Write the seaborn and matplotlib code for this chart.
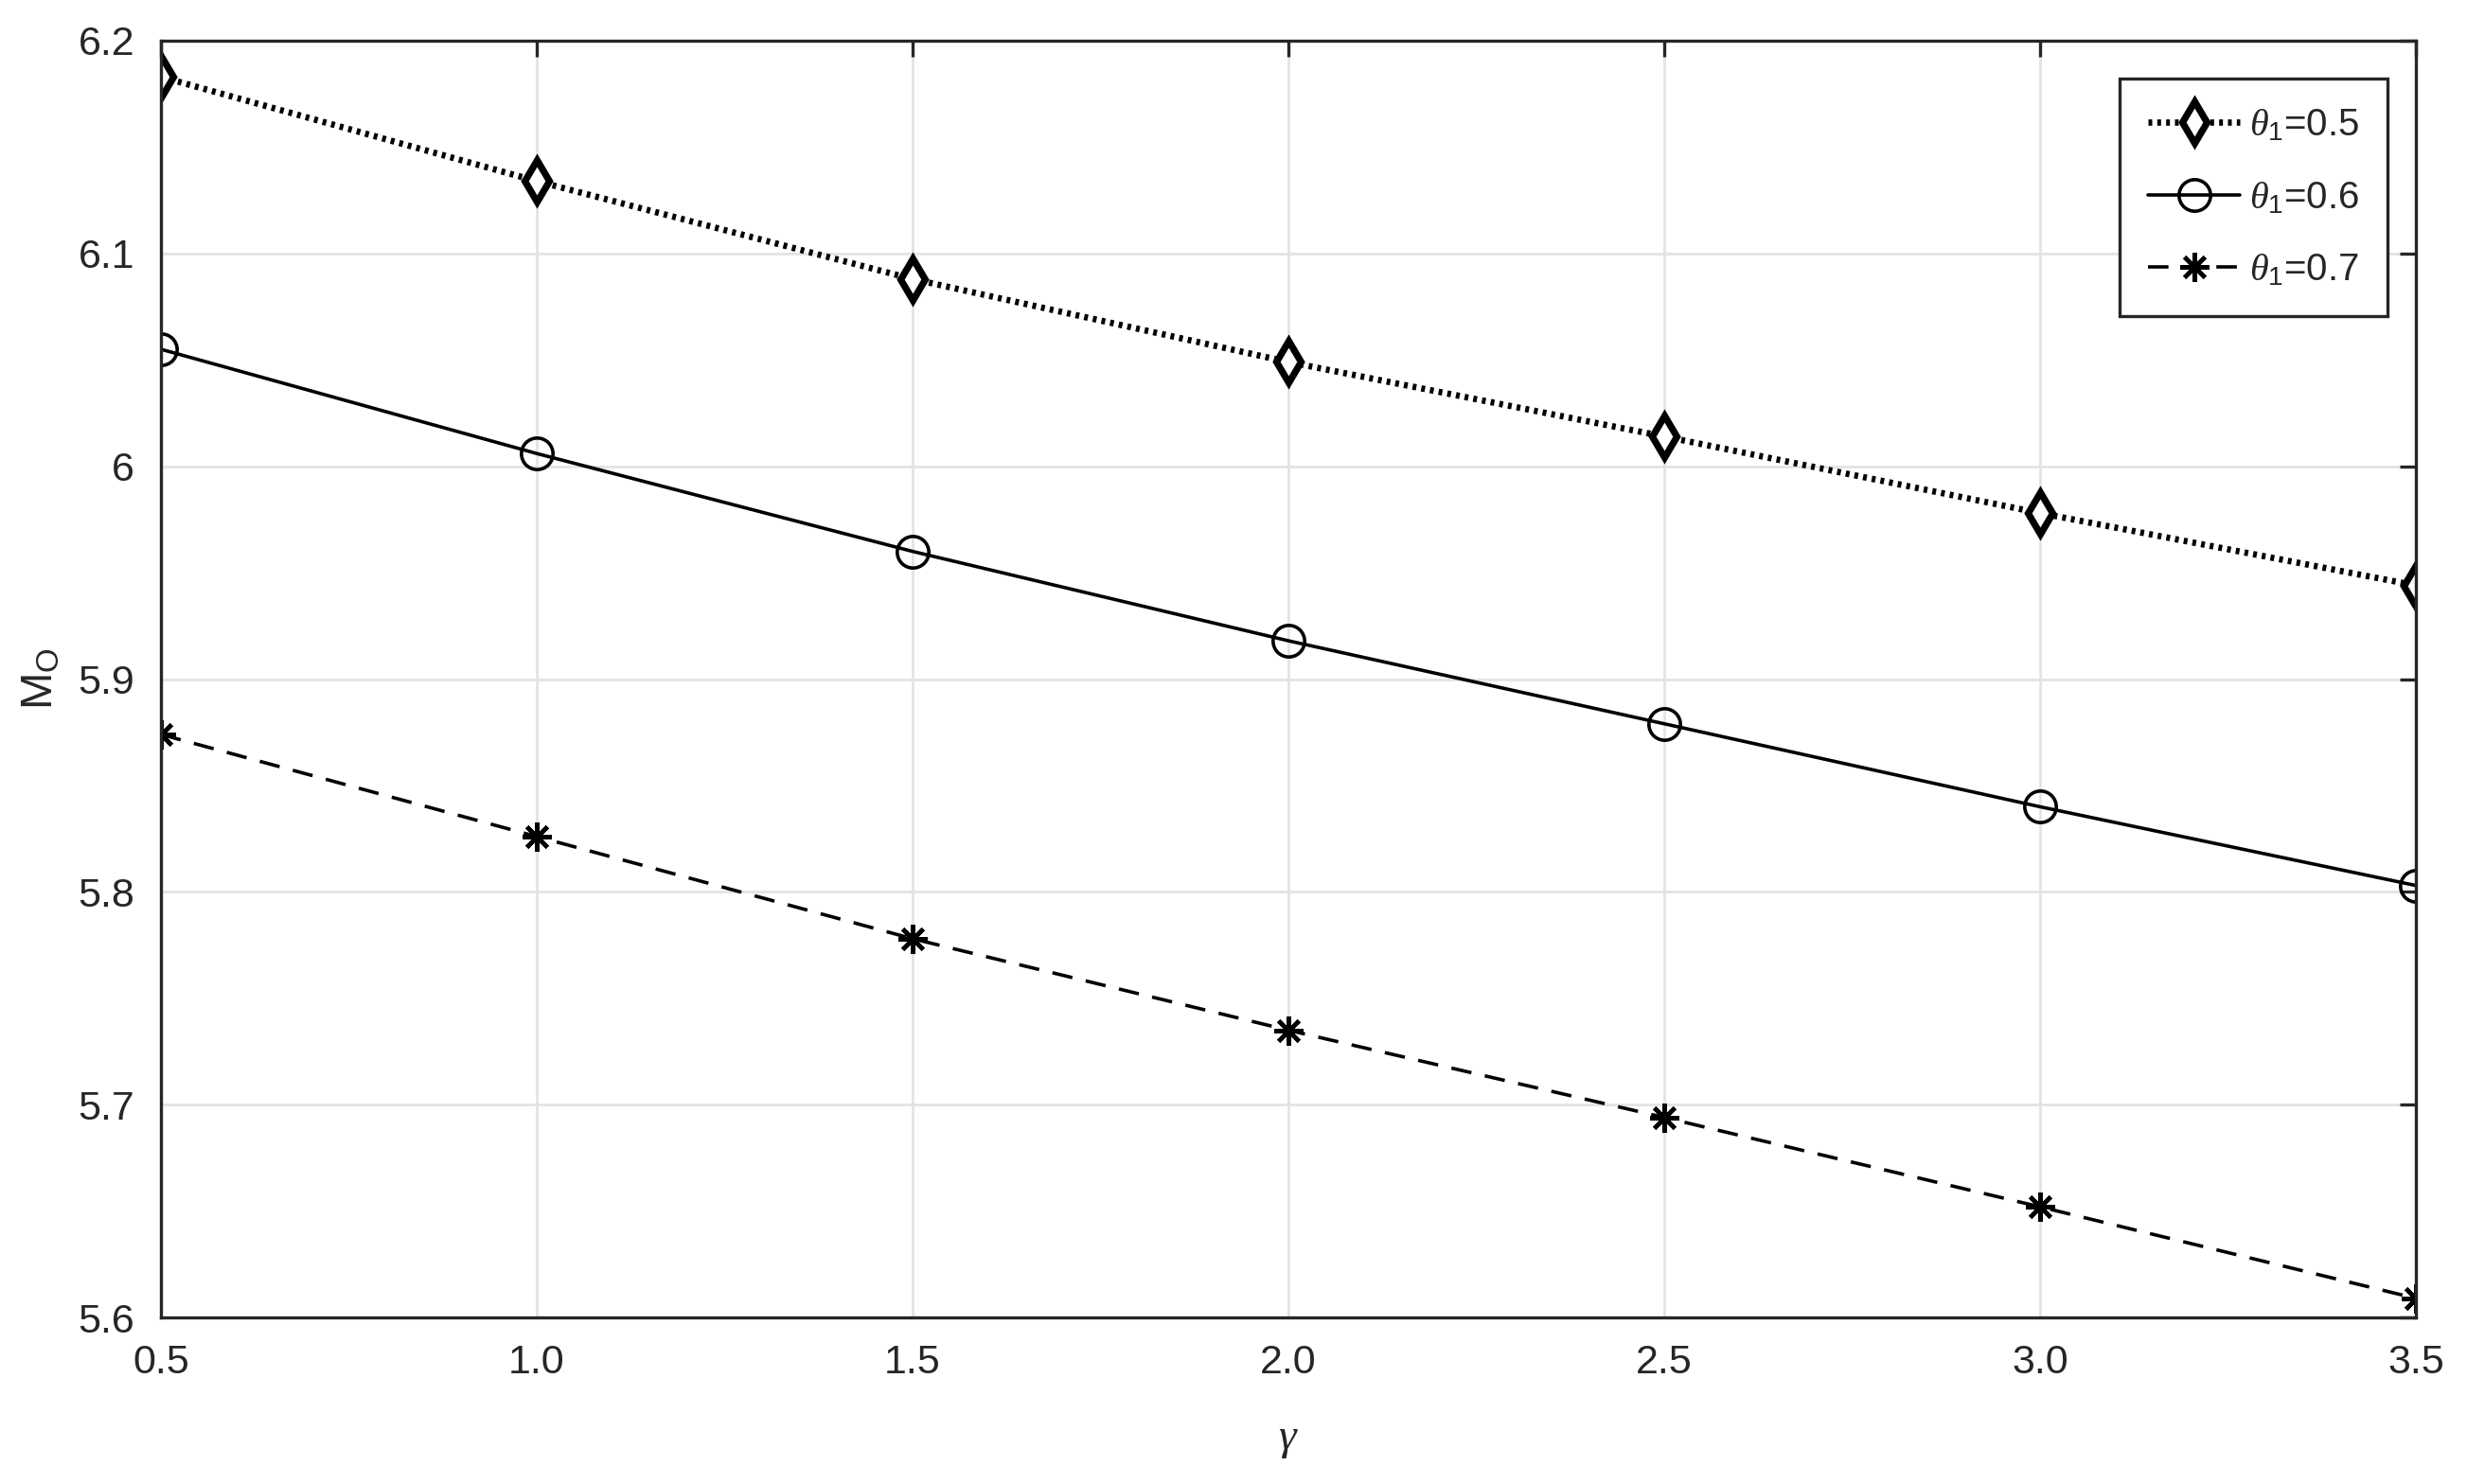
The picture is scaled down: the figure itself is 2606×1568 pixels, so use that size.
import numpy as np
import pandas as pd
import matplotlib
matplotlib.use("Agg")
import matplotlib.pyplot as plt
import seaborn as sns

# values
gamma = [0.5, 1.0, 1.5, 2.0, 2.5, 3.0, 3.5]
m_theta05 = [6.183, 6.134, 6.088, 6.049, 6.014, 5.978, 5.944]
m_theta06 = [6.055, 6.006, 5.960, 5.918, 5.879, 5.840, 5.803]
m_theta07 = [5.874, 5.826, 5.778, 5.735, 5.694, 5.652, 5.609]
labels = [r"$\theta_{\mathregular{1}}$=0.5", r"$\theta_{\mathregular{1}}$=0.6",
          r"$\theta_{\mathregular{1}}$=0.7"]
xticks = [0.5, 1.0, 1.5, 2.0, 2.5, 3.0, 3.5]
yticks = [5.6, 5.7, 5.8, 5.9, 6.0, 6.1, 6.2]
yticklabels = ["5.6", "5.7", "5.8", "5.9", "6", "6.1", "6.2"]

sns.set_style("white")
plt.rcParams["font.family"] = ["Liberation Sans", "DejaVu Sans"]
plt.rcParams["mathtext.fontset"] = "custom"
plt.rcParams["mathtext.rm"] = "Liberation Sans"
plt.rcParams["mathtext.it"] = "Liberation Serif:italic"

df = pd.DataFrame({"gamma": gamma, "t05": m_theta05, "t06": m_theta06, "t07": m_theta07})

fig = plt.figure(figsize=(13.03, 7.84), dpi=200)
ax = fig.add_axes([0.0652, 0.1122, 0.9141, 0.8604])

sns.lineplot(data=df, x="gamma", y="t05", ax=ax, color="black", linewidth=2.4,
             linestyle=(0, (0.6, 0.8)), marker="d", markersize=11,
             markerfacecolor="white", markeredgecolor="black", markeredgewidth=2.6,
             label=labels[0])
sns.lineplot(data=df, x="gamma", y="t06", ax=ax, color="black", linewidth=1.3,
             linestyle="-", marker="o", markersize=12,
             markerfacecolor="none", markeredgecolor="black", markeredgewidth=1.3,
             label=labels[1])
sns.lineplot(data=df, x="gamma", y="t07", ax=ax, color="black", linewidth=1.3,
             linestyle=(0, (6, 4)), marker=(8, 2, 0), markersize=11,
             markeredgecolor="black", markeredgewidth=1.6,
             label=labels[2])

ax.set_xlim(0.5, 3.5)
ax.set_ylim(5.6, 6.2)
ax.set_xticks(xticks)
ax.set_xticklabels([f"{v:.1f}" for v in xticks])
ax.set_yticks(yticks)
ax.set_yticklabels(yticklabels)

ax.grid(True, color="#e3e3e3", linewidth=1.0)
ax.set_axisbelow(True)
for s in ax.spines.values():
    s.set_color("#262626")
    s.set_linewidth(1.2)
ax.tick_params(axis="both", direction="in", length=6, width=1.2, color="#262626",
               labelsize=15.5, labelcolor="#262626", top=True, right=True, pad=10)

ax.set_xlabel(r"$\gamma$", fontsize=17, color="#262626", labelpad=14)
ax.set_ylabel(r"$\mathrm{M_O}$", fontsize=17, color="#262626", labelpad=6)

leg = ax.legend(loc="upper right", bbox_to_anchor=(0.996, 0.985), fontsize=14.5,
                frameon=True, fancybox=False, framealpha=1, edgecolor="#262626",
                handlelength=2.4, handletextpad=0.25, borderpad=0.75, labelspacing=0.95,
                borderaxespad=0.5)
leg.get_frame().set_linewidth(1.2)

fig.savefig("out.png", dpi=200)
